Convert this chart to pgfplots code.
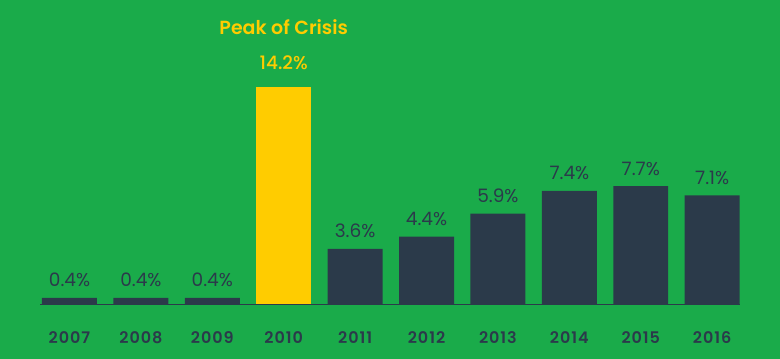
\documentclass[border=0pt]{standalone}
\usepackage{pgfplots}
\pgfplotsset{compat=1.18}
\usepackage{fontspec}
\setmainfont{Poppins}
\newfontfamily\yearfont[LetterSpace=6]{Poppins SemiBold}
\newfontfamily\semib{Poppins SemiBold}
\newfontfamily\medium{Poppins Medium}
\definecolor{bg}{RGB}{26,171,74}
\definecolor{dark}{RGB}{43,58,74}
\definecolor{gold}{RGB}{255,204,0}
\begin{document}
\begin{tikzpicture}
\fill[bg] (0,0) rectangle (780bp,359bp);
\useasboundingbox (0,0) rectangle (780bp,359bp);
\begin{axis}[
  at={(40bp,55bp)}, anchor=south west,
  scale only axis, width=700bp, height=244.8bp,
  xmin=-0.413, xmax=9.39, ymin=0, ymax=16,
  axis x line=bottom, axis y line=none,
  x axis line style={-, draw=dark, line width=0.8pt},
  xtick={0,...,9},
  xticklabels={2007,2008,2009,2010,2011,2012,2013,2014,2015,2016},
  major tick length=0pt,
  xticklabel style={anchor=base, yshift=-39.3bp, text=dark, font=\yearfont\fontsize{16bp}{18bp}\selectfont},
  ytick=\empty,
  clip=false,
  ybar, bar width=0.77, bar shift=0pt,
]
\addplot[fill=dark, draw=none, nodes near coords, point meta=explicit symbolic,
  every node near coord/.append style={anchor=base, yshift=11bp, text=dark, font=\fontsize{18.5bp}{20bp}\selectfont}]
  coordinates {(0,0.4) [0.4\%] (1,0.4) [0.4\%] (2,0.4) [0.4\%] (4,3.6) [3.6\%] (5,4.4) [4.4\%] (6,5.9) [5.9\%] (7,7.4) [7.4\%] (8,7.7) [7.7\%] (9,7.1) [7.1\%]};
\addplot[fill=gold, draw=none, nodes near coords, point meta=explicit symbolic,
  every node near coord/.append style={anchor=base, yshift=17bp, text=gold, font=\medium\fontsize{18.5bp}{20bp}\selectfont}]
  coordinates {(3,14.2) [14.2\%]};
\node[anchor=base, text=gold, font=\semib\fontsize{19bp}{21bp}\selectfont] at (axis cs:3,17.63) {Peak of Crisis};
\end{axis}
\end{tikzpicture}
\end{document}
